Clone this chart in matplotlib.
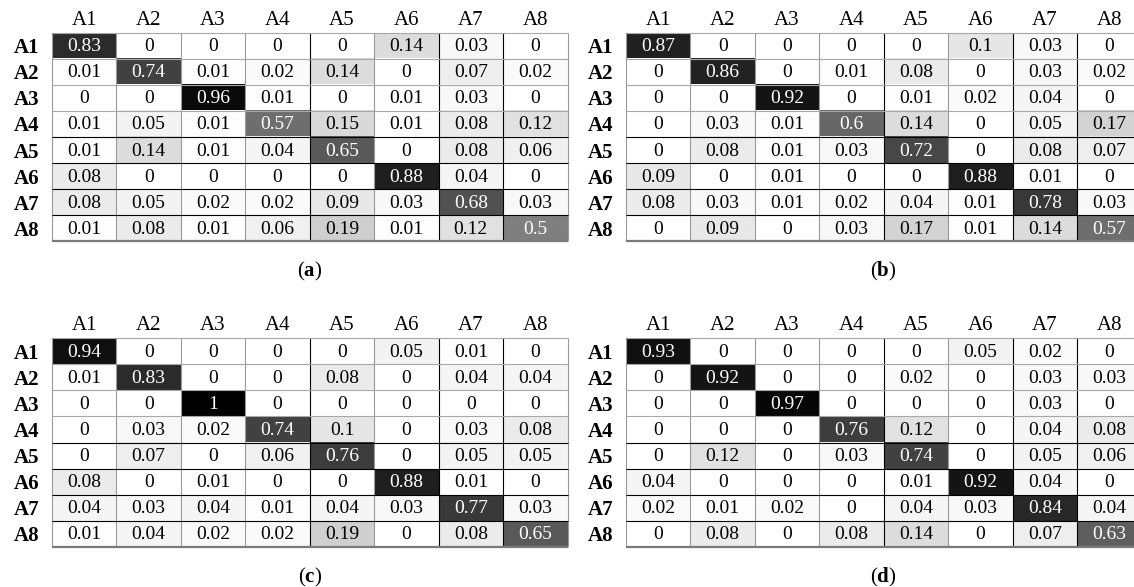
import numpy as np
import matplotlib
matplotlib.use("Agg")
import matplotlib.pyplot as plt

plt.rcParams['font.family'] = ['Liberation Serif', 'DejaVu Serif']
plt.rcParams['mathtext.fontset'] = 'custom'
plt.rcParams['mathtext.rm'] = 'Liberation Serif'
plt.rcParams['mathtext.bf'] = 'Liberation Serif:bold'

classes = ["A1", "A2", "A3", "A4", "A5", "A6", "A7", "A8"]

cm_a = [
    [0.83, 0, 0, 0, 0, 0.14, 0.03, 0],
    [0.01, 0.74, 0.01, 0.02, 0.14, 0, 0.07, 0.02],
    [0, 0, 0.96, 0.01, 0, 0.01, 0.03, 0],
    [0.01, 0.05, 0.01, 0.57, 0.15, 0.01, 0.08, 0.12],
    [0.01, 0.14, 0.01, 0.04, 0.65, 0, 0.08, 0.06],
    [0.08, 0, 0, 0, 0, 0.88, 0.04, 0],
    [0.08, 0.05, 0.02, 0.02, 0.09, 0.03, 0.68, 0.03],
    [0.01, 0.08, 0.01, 0.06, 0.19, 0.01, 0.12, 0.5],
]
cm_b = [
    [0.87, 0, 0, 0, 0, 0.1, 0.03, 0],
    [0, 0.86, 0, 0.01, 0.08, 0, 0.03, 0.02],
    [0, 0, 0.92, 0, 0.01, 0.02, 0.04, 0],
    [0, 0.03, 0.01, 0.6, 0.14, 0, 0.05, 0.17],
    [0, 0.08, 0.01, 0.03, 0.72, 0, 0.08, 0.07],
    [0.09, 0, 0.01, 0, 0, 0.88, 0.01, 0],
    [0.08, 0.03, 0.01, 0.02, 0.04, 0.01, 0.78, 0.03],
    [0, 0.09, 0, 0.03, 0.17, 0.01, 0.14, 0.57],
]
cm_c = [
    [0.94, 0, 0, 0, 0, 0.05, 0.01, 0],
    [0.01, 0.83, 0, 0, 0.08, 0, 0.04, 0.04],
    [0, 0, 1, 0, 0, 0, 0, 0],
    [0, 0.03, 0.02, 0.74, 0.1, 0, 0.03, 0.08],
    [0, 0.07, 0, 0.06, 0.76, 0, 0.05, 0.05],
    [0.08, 0, 0.01, 0, 0, 0.88, 0.01, 0],
    [0.04, 0.03, 0.04, 0.01, 0.04, 0.03, 0.77, 0.03],
    [0.01, 0.04, 0.02, 0.02, 0.19, 0, 0.08, 0.65],
]
cm_d = [
    [0.93, 0, 0, 0, 0, 0.05, 0.02, 0],
    [0, 0.92, 0, 0, 0.02, 0, 0.03, 0.03],
    [0, 0, 0.97, 0, 0, 0, 0.03, 0],
    [0, 0, 0, 0.76, 0.12, 0, 0.04, 0.08],
    [0, 0.12, 0, 0.03, 0.74, 0, 0.05, 0.06],
    [0.04, 0, 0, 0, 0.01, 0.92, 0.04, 0],
    [0.02, 0.01, 0.02, 0, 0.04, 0.03, 0.84, 0.04],
    [0, 0.08, 0, 0.08, 0.14, 0, 0.07, 0.63],
]
panel_labels = ["a", "b", "c", "d"]

W, H = 1134, 587
fig = plt.figure(figsize=(W / 100, H / 100), dpi=100)

# grid rectangles in pixels (left, top, width, height)
rects = [
    (52, 32.5, 515.5, 209),
    (626, 32.5, 515.5, 209),
    (52, 338, 515.5, 209),
    (626, 338, 515.5, 209),
]

def fmt(v):
    return "{:g}".format(v)

black_v = {4, 6, 7}
black_h = {4, 5, 6, 7}

for cm, lab, (l, t, w, h) in zip([cm_a, cm_b, cm_c, cm_d], panel_labels, rects):
    ax = fig.add_axes([l / W, 1 - (t + h) / H, w / W, h / H])
    m = np.array(cm, dtype=float)
    ax.imshow(m, cmap="gray_r", vmin=0, vmax=1, aspect="auto",
              interpolation="nearest")
    n = len(classes)
    for i in range(n):
        for j in range(n):
            v = m[i, j]
            ax.text(j, i + 0.04, fmt(v), ha="center", va="center",
                    fontsize=14, color="white" if v >= 0.5 else "black")
    for k in range(n + 1):
        c = "black" if k in black_v else "#9a9a9a"
        ax.plot([k - 0.5, k - 0.5], [-0.5, n - 0.5], color=c, lw=0.8,
                solid_capstyle="butt", clip_on=False)
    for k in range(n + 1):
        if k == n:
            c, lw = "#7a7a7a", 1.6
        else:
            c, lw = ("black" if k in black_h else "#a8a8a8"), 0.8
        ax.plot([-0.5, n - 0.5], [k - 0.5, k - 0.5], color=c, lw=lw,
                solid_capstyle="butt", clip_on=False)
    ax.set_xlim(-0.5, n - 0.5)
    ax.set_ylim(n - 0.5, -0.5)
    ax.xaxis.tick_top()
    ax.set_xticks(range(n))
    ax.set_xticklabels(classes, fontsize=15)
    ax.set_yticks(range(n))
    ax.set_yticklabels(classes, fontsize=15, fontweight="bold")
    ax.tick_params(axis="x", length=0, pad=2)
    ax.tick_params(axis="y", length=0, pad=9)
    for s in ax.spines.values():
        s.set_visible(False)
    ax.text(3.5, n - 0.5 + 1.15, r"($\mathbf{" + lab + r"}$)",
            ha="center", va="center", fontsize=15)

fig.savefig("out.png", dpi=100)
